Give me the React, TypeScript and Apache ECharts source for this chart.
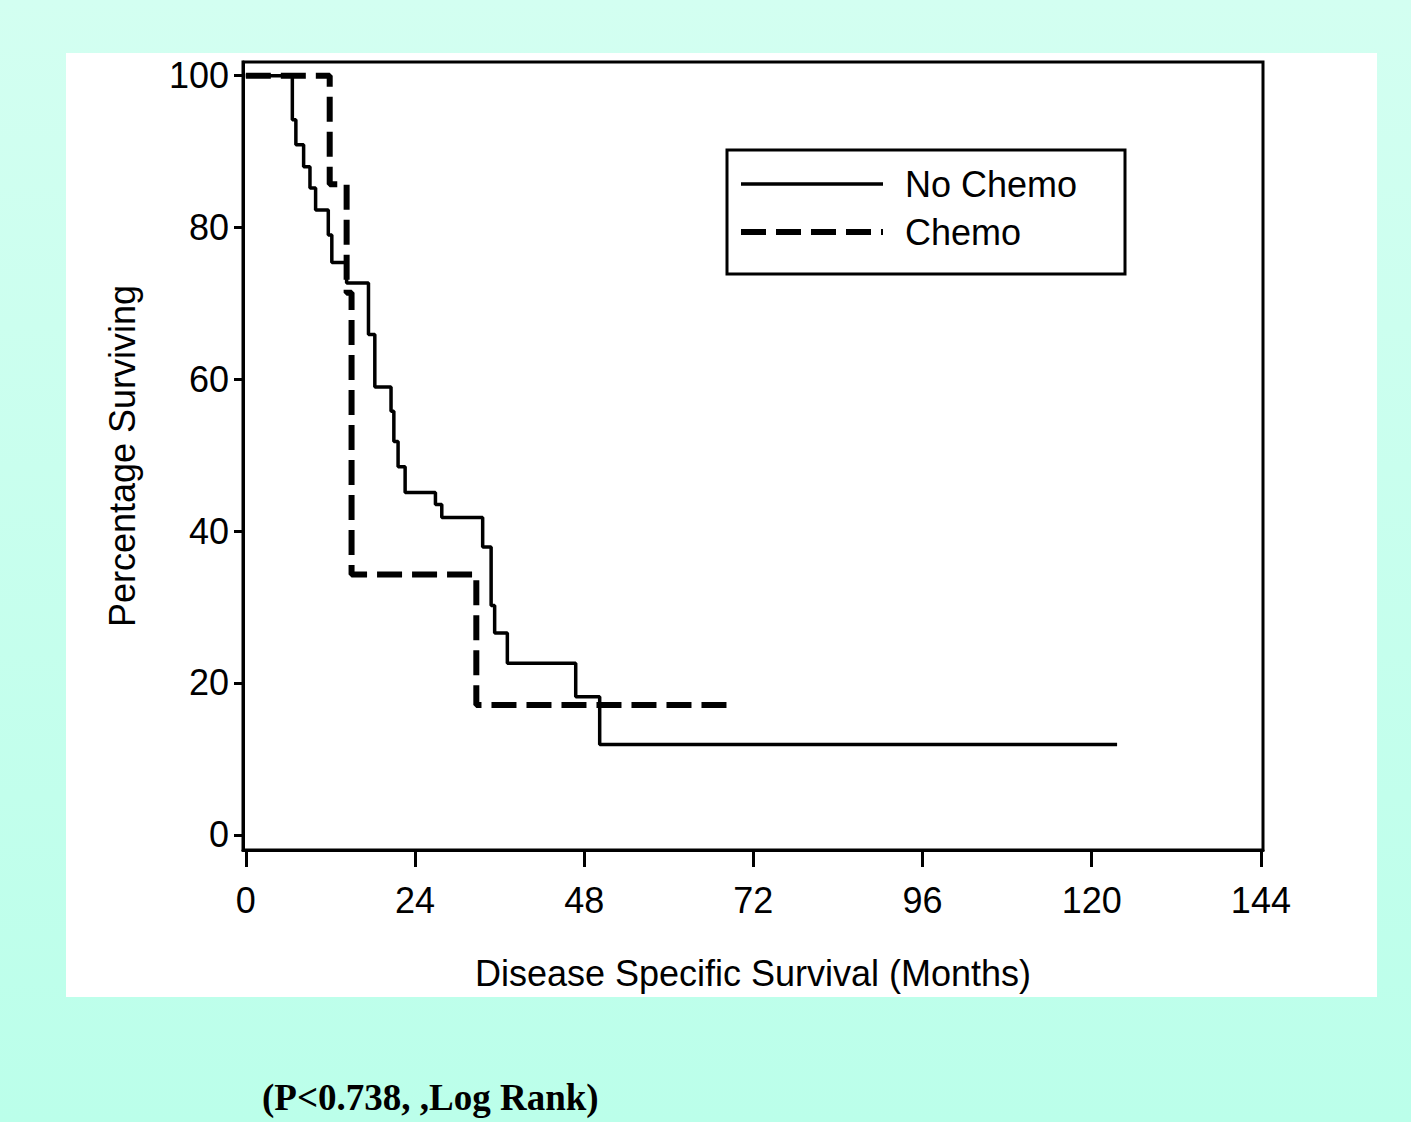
import React, { useEffect, useRef } from "react";
import * as echarts from "echarts";

const noChemoMonths = [0, 6.6, 7.1, 8.2, 9.1, 9.9, 11.7, 12.2, 14.3, 17.4, 18.3, 20.6, 21.0, 21.6, 22.6, 26.9, 27.8, 33.6, 34.8, 35.3, 37.1, 46.8, 50.2, 123.6];
const noChemoSurvival = [100, 94.2, 90.9, 88.0, 85.2, 82.3, 79.0, 75.4, 72.7, 65.9, 59.0, 55.8, 51.8, 48.5, 45.1, 43.5, 41.8, 37.9, 30.2, 26.6, 22.6, 18.2, 11.9, 11.9];
const chemoMonths = [0, 11.9, 14.3, 15.0, 32.7, 69.6];
const chemoSurvival = [100, 85.7, 71.4, 34.3, 17.1, 17.1];
const xTicks = [0, 24, 48, 72, 96, 120, 144];
const yTicks = [0, 20, 40, 60, 80, 100];
const seriesNames = ["No Chemo", "Chemo"];

const FONT = "'Liberation Sans', Arial, sans-serif";
const SOLID = { color: "#000", width: 3.5, type: "solid" as const };
const DASHED = { color: "#000", width: 6, type: [25, 10] };

export default function App() {
  const ref = useRef<HTMLDivElement>(null);
  useEffect(() => {
    if (!ref.current) return;
    const chart = echarts.init(ref.current, undefined, { renderer: "svg" });
    const zip = (a: number[], b: number[]) => a.map((v, i) => [v, b[i]]);
    chart.setOption({
      animation: false,
      backgroundColor: "transparent",
      grid: {
        left: 243,
        right: 148,
        top: 62,
        bottom: 272,
        show: true,
        borderColor: "#000",
        borderWidth: 3,
        backgroundColor: "#fff",
      },
      graphic: [
        {
          type: "rect",
          z: -10,
          shape: { x: 66, y: 53, width: 1311, height: 944 },
          style: { fill: "#fff" },
        },
        {
          type: "rect",
          z: 3,
          shape: { x: 727, y: 150, width: 398, height: 124 },
          style: { fill: "#fff", stroke: "#000", lineWidth: 3 },
        },
        {
          type: "text",
          z: 3,
          x: 262,
          y: 1097,
          style: {
            text: "(P<0.738, ,Log Rank)",
            fontFamily: "'Liberation Serif', 'Times New Roman', serif",
            fontWeight: "bold",
            fontSize: 37,
            fill: "#000",
            verticalAlign: "middle",
            align: "left",
          },
        },
      ],
      legend: {
        show: true,
        orient: "vertical",
        left: 738,
        top: 166,
        padding: 0,
        itemWidth: 142,
        itemHeight: 14,
        itemGap: 12,
        selectedMode: false,
        z: 6,
        itemStyle: { color: "transparent", borderWidth: 0, borderColor: "transparent", opacity: 0 },
        textStyle: { fontSize: 36, fontFamily: FONT, color: "#000", padding: [0, 0, 0, 17] },
        data: [
          { name: seriesNames[0], lineStyle: SOLID },
          { name: seriesNames[1], lineStyle: DASHED },
        ],
      },
      xAxis: {
        type: "value",
        min: -0.4,
        max: 144.3,
        name: "Disease Specific Survival (Months)",
        nameLocation: "middle",
        nameGap: 105,
        nameTextStyle: { fontSize: 36, fontFamily: FONT, color: "#000" },
        splitLine: { show: false },
        axisLine: { show: true, onZero: false, lineStyle: { color: "#000", width: 3 } },
        axisTick: {
          show: true,
          inside: false,
          length: 17,
          lineStyle: { color: "#000", width: 3 },
          customValues: xTicks,
        },
        axisLabel: {
          show: true,
          margin: 32,
          fontSize: 36,
          fontFamily: FONT,
          color: "#000",
          customValues: xTicks,
        },
      },
      yAxis: {
        type: "value",
        min: -2,
        max: 101.8,
        name: "Percentage Surviving",
        nameLocation: "middle",
        nameGap: 103,
        nameRotate: 90,
        nameTextStyle: { fontSize: 36, fontFamily: FONT, color: "#000" },
        splitLine: { show: false },
        axisLine: { show: true, onZero: false, lineStyle: { color: "#000", width: 3 } },
        axisTick: {
          show: true,
          inside: false,
          length: 9,
          lineStyle: { color: "#000", width: 3 },
          customValues: yTicks,
        },
        axisLabel: {
          show: true,
          margin: 14,
          fontSize: 36,
          fontFamily: FONT,
          color: "#000",
          customValues: yTicks,
        },
      },
      series: [
        {
          type: "line",
          name: seriesNames[0],
          data: zip(noChemoMonths, noChemoSurvival),
          step: "end",
          symbol: "none",
          showSymbol: false,
          z: 3,
          itemStyle: { color: "#000" },
          lineStyle: SOLID,
        },
        {
          type: "line",
          name: seriesNames[1],
          data: zip(chemoMonths, chemoSurvival),
          step: "end",
          symbol: "none",
          showSymbol: false,
          z: 4,
          itemStyle: { color: "#000" },
          lineStyle: DASHED,
        },
      ],
    });
    return () => chart.dispose();
  }, []);
  return (
    <div
      style={{
        position: "absolute",
        left: 0,
        top: 0,
        width: 1411,
        height: 1122,
        background: "linear-gradient(180deg, #d3fff1 0%, #bbffea 100%)",
      }}
    >
      <div ref={ref} style={{ width: 1411, height: 1122 }} />
    </div>
  );
}
